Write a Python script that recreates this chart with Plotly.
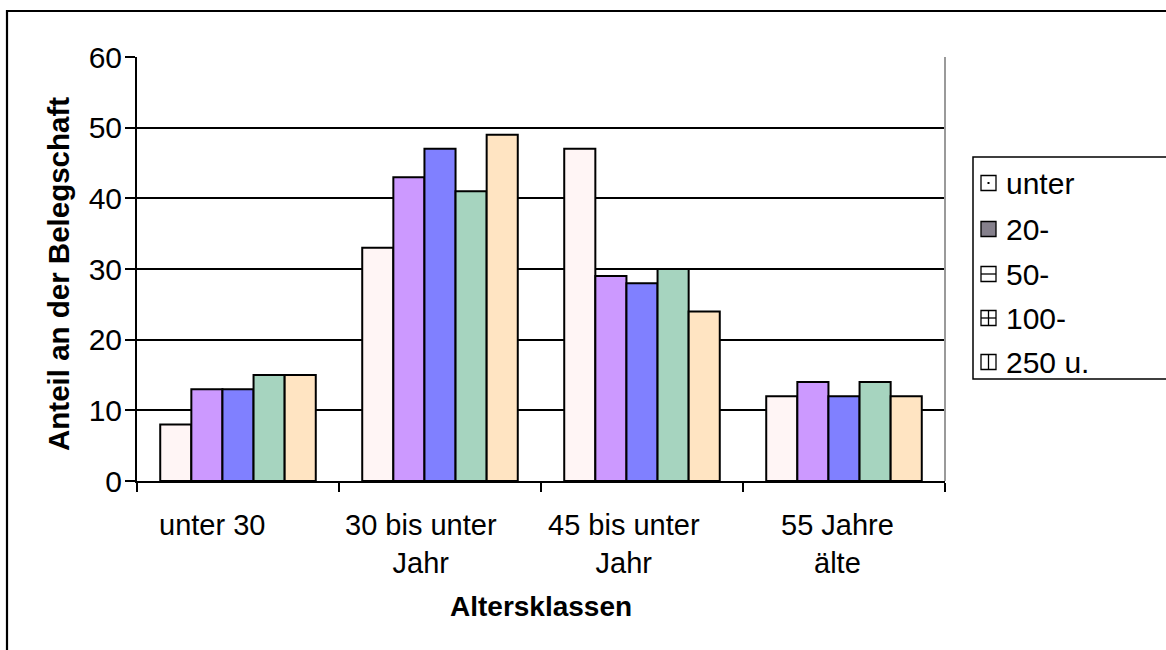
import plotly.graph_objects as go

# Age classes (x categories) and company-size series
categories = ["unter 30", "30 bis unter<br>Jahr", "45 bis unter<br>Jahr", "55 Jahre<br>älte"]
series_names = ["unter", "20-", "50-", "100-", "250 u."]
values_unter = [8, 33, 47, 12]
values_20 = [13, 43, 29, 14]
values_50 = [13, 47, 28, 12]
values_100 = [15, 41, 30, 14]
values_250 = [15, 49, 24, 12]
series_values = [values_unter, values_20, values_50, values_100, values_250]
bar_colors = ["#FFF5F5", "#CC99FF", "#8080FF", "#A6D4BF", "#FFE4C2"]
y_ticks = [0, 10, 20, 30, 40, 50, 60]

W, H = 1166, 650
PL, PR, PT, PB = 137, 945, 57, 481  # plot area in pixels

FONT = "Liberation Sans, Arial, sans-serif"


def px_x(px):
    return (px - PL) / (PR - PL)


def px_y(py):
    return (PB - py) / (PB - PT)


fig = go.Figure()
for name, vals, col in zip(series_names, series_values, bar_colors):
    fig.add_trace(go.Bar(
        x=categories, y=vals, name=name,
        marker=dict(color=col, line=dict(color="black", width=2)),
        showlegend=False,
    ))

shapes = []
# outer chart frame
shapes.append(dict(type="rect", xref="paper", yref="paper",
                   x0=px_x(7), x1=px_x(1200), y0=px_y(700), y1=px_y(11),
                   line=dict(color="black", width=2.2), fillcolor="rgba(0,0,0,0)"))
# right edge of the plot area
shapes.append(dict(type="line", xref="paper", yref="paper",
                   x0=1, x1=1, y0=0, y1=1, line=dict(color="#9a9a9a", width=2)))
# legend box
shapes.append(dict(type="rect", xref="paper", yref="paper",
                   x0=px_x(973), x1=px_x(1200), y0=px_y(379), y1=px_y(157),
                   line=dict(color="black", width=1.5), fillcolor="white"))

annotations = []
row_centers = [183, 229, 274, 318, 362]
sym_kind = {"unter": "dot", "20-": "fill", "50-": "h", "100-": "cross", "250 u.": "v"}
sx0, sx1 = 981, 996
for name, cy in zip(series_names, row_centers):
    y0, y1 = cy - 7.5, cy + 7.5
    kind = sym_kind[name]
    fill = "#85808c" if kind == "fill" else "white"
    shapes.append(dict(type="rect", xref="paper", yref="paper",
                       x0=px_x(sx0), x1=px_x(sx1), y0=px_y(y1), y1=px_y(y0),
                       line=dict(color="black", width=1.3), fillcolor=fill))
    mx = (sx0 + sx1) / 2
    if kind == "dot":
        shapes.append(dict(type="rect", xref="paper", yref="paper",
                           x0=px_x(mx - 1), x1=px_x(mx + 1), y0=px_y(cy + 1), y1=px_y(cy - 1),
                           line=dict(width=0), fillcolor="black"))
    if kind in ("h", "cross"):
        shapes.append(dict(type="line", xref="paper", yref="paper",
                           x0=px_x(sx0), x1=px_x(sx1), y0=px_y(cy), y1=px_y(cy),
                           line=dict(color="black", width=1.3)))
    if kind in ("v", "cross"):
        shapes.append(dict(type="line", xref="paper", yref="paper",
                           x0=px_x(mx), x1=px_x(mx), y0=px_y(y0), y1=px_y(y1),
                           line=dict(color="black", width=1.3)))
    annotations.append(dict(text=name, xref="paper", yref="paper",
                            x=px_x(1004), y=px_y(cy), xanchor="left", yanchor="middle",
                            showarrow=False, font=dict(family=FONT, size=30, color="black")))

# category labels under the axis (slightly left of each group centre)
label_shifts = [-26, -19, -18, -7]
for cat, dx in zip(categories, label_shifts):
    annotations.append(dict(text=cat, xref="x", yref="paper",
                            x=cat, y=px_y(507), xanchor="center", yanchor="top",
                            xshift=dx, showarrow=False, align="center",
                            font=dict(family=FONT, size=29, color="black")))

# axis titles
annotations.append(dict(text="<b>Altersklassen</b>", xref="paper", yref="paper",
                        x=px_x(541), y=px_y(606), xanchor="center", yanchor="middle",
                        showarrow=False, font=dict(family=FONT, size=28, color="black")))
annotations.append(dict(text="<b>Anteil an der Belegschaft</b>", xref="paper", yref="paper",
                        x=px_x(58), y=px_y(274), xanchor="center", yanchor="middle",
                        textangle=-90, showarrow=False,
                        font=dict(family=FONT, size=29.5, color="black")))

fig.update_layout(
    width=W, height=H,
    margin=dict(l=PL, r=W - PR, t=PT, b=H - PB, pad=0),
    paper_bgcolor="white", plot_bgcolor="white",
    barmode="group", bargap=0.23, bargroupgap=0,
    font=dict(family=FONT, size=29, color="black"),
    shapes=shapes, annotations=annotations,
    xaxis=dict(
        showline=True, linecolor="black", linewidth=2,
        ticks="outside", ticklen=9, tickwidth=1.5, tickcolor="black",
        tickson="boundaries", showgrid=False, showticklabels=False,
    ),
    yaxis=dict(
        range=[0, 60], tickvals=y_ticks,
        showline=True, linecolor="black", linewidth=2,
        ticks="outside", ticklen=10, tickwidth=1.5, tickcolor="black",
        showgrid=True, gridcolor="black", gridwidth=1.5, zeroline=False,
        tickfont=dict(family=FONT, size=30), ticklabelstandoff=-3,
    ),
)

fig.write_html("out.html")
